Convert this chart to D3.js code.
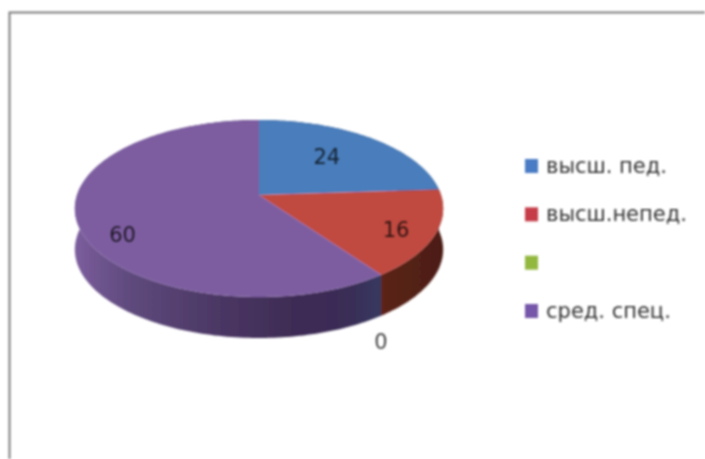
<!DOCTYPE html>
<html>
<head>
<meta charset="utf-8">
<script src="https://cdn.jsdelivr.net/npm/d3@7"></script>
<style>
  html, body { margin: 0; padding: 0; background: #fff; }
  svg { display: block; }
  text { font-family: "DejaVu Sans", sans-serif; }
  .value-label { font-size: 21px; fill: #000; fill-opacity: 0.75; text-anchor: middle; }
  .legend-label { font-size: 21px; fill: #333; }
</style>
</head>
<body>
<div id="chart-area"></div>
<script>
const categories = ["высш. пед.", "высш.непед.", "", "сред. спец."];
const values = [24, 16, 0, 60];
const topColors = ["#4a7dbb", "#c0493f", "#9bbb59", "#7d5da0"];
const legendColors = ["#4a7cc4", "#c63c48", "#93b83f", "#7456a8"];

const chartSize = { width: 705, height: 459 };
const pieBox = { left: 77, right: 441, top: 120, apex: 195, bottom: 297, depth: 41 };

// projective tilt, so the centre of the disc sits above the middle of the ellipse
const c = (2 * pieBox.apex - pieBox.top - pieBox.bottom) / (pieBox.bottom - pieBox.top);
const a = pieBox.apex - pieBox.top * (1 - c);

const xScale = d3.scaleLinear().domain([-1, 1]).range([pieBox.left, pieBox.right]);

const project = (angle, r = 1, drop = 0) => {
  const u = r * Math.sin(angle);
  const v = -r * Math.cos(angle);
  const w = 1 + c * v;
  return [xScale(u / w), (pieBox.apex + a * v) / w + drop];
};

const sampleArc = (start, end) => {
  const n = Math.max(2, Math.ceil((end - start) / 0.02));
  return d3.range(n + 1).map(i => start + ((end - start) * i) / n);
};

const svg = d3
  .select("#chart-area")
  .append("svg")
  .attr("width", chartSize.width)
  .attr("height", chartSize.height);

const defs = svg.append("defs");

const addGradient = (id, stops) => {
  defs
    .append("linearGradient")
    .attr("id", id)
    .attr("gradientUnits", "userSpaceOnUse")
    .attr("x1", pieBox.left)
    .attr("x2", pieBox.right)
    .attr("y1", 0)
    .attr("y2", 0)
    .selectAll("stop")
    .data(stops)
    .join("stop")
    .attr("offset", d => d[0])
    .attr("stop-color", d => d[1]);
};

addGradient("wall-red", [[0.8, "#5f2417"], [1, "#4c1e18"]]);
addGradient("wall-purple", [
  [0, "#7b5d9c"],
  [0.05, "#705590"],
  [0.15, "#5e4a7c"],
  [0.4, "#4a3663"],
  [0.6, "#3e2c54"],
  [0.75, "#3a2d56"],
  [0.82, "#37375f"]
]);
addGradient("wall-blue", [[0, "#2c4a70"], [1, "#2c4a70"]]);
addGradient("wall-green", [[0, "#5c7035"], [1, "#5c7035"]]);

const wallFills = ["url(#wall-blue)", "url(#wall-red)", "url(#wall-green)", "url(#wall-purple)"];

defs
  .append("filter")
  .attr("id", "soft")
  .append("feGaussianBlur")
  .attr("stdDeviation", 0.8);

// frame of the pasted picture, only its top and left edges show
svg
  .append("path")
  .attr("d", "M9.5,459V12.5H705")
  .attr("fill", "none")
  .attr("stroke", "#7c7c7c")
  .attr("stroke-width", 2)
  .attr("filter", "url(#soft)");

const slices = d3.pie().sort(null).startAngle(0).endAngle(2 * Math.PI)(values);
const line = d3.line();

const pie = svg.append("g").attr("class", "pie").attr("filter", "url(#soft)");

pie
  .selectAll("path.wall")
  .data(slices)
  .join("path")
  .attr("class", "wall")
  .attr("fill", (d, i) => wallFills[i])
  .attr("d", d => {
    const angles = sampleArc(d.startAngle, d.endAngle);
    const upper = angles.map(t => project(t));
    const lower = angles.slice().reverse().map(t => project(t, 1, pieBox.depth));
    return line(upper.concat(lower)) + "Z";
  });

pie
  .selectAll("path.top")
  .data(slices)
  .join("path")
  .attr("class", "top")
  .attr("fill", (d, i) => topColors[i])
  .attr("d", d => {
    const rim = sampleArc(d.startAngle, d.endAngle).map(t => project(t));
    return line([project(0, 0)].concat(rim)) + "Z";
  });

// data labels: radial position on the disc and a vertical nudge per slice
const labelRadius = [0.58, 0.79, 1, 0.76];
const labelNudge = [3, 11, 74, 26];

svg
  .append("g")
  .attr("filter", "url(#soft)")
  .selectAll("text")
  .data(slices)
  .join("text")
  .attr("class", "value-label")
  .attr("x", (d, i) => project((d.startAngle + d.endAngle) / 2, labelRadius[i])[0])
  .attr("y", (d, i) => project((d.startAngle + d.endAngle) / 2, labelRadius[i])[1] + labelNudge[i])
  .text(d => d.value);

const legendY = d3.scalePoint().domain(categories).range([166, 311]);

const legend = svg
  .append("g")
  .attr("filter", "url(#soft)")
  .selectAll("g")
  .data(categories)
  .join("g")
  .attr("transform", d => `translate(525,${legendY(d)})`);

legend
  .append("rect")
  .attr("y", -7)
  .attr("width", 13)
  .attr("height", 14)
  .attr("fill", (d, i) => legendColors[i]);

legend
  .append("text")
  .attr("class", "legend-label")
  .attr("x", 21)
  .attr("y", 7)
  .text(d => d);
</script>
</body>
</html>
